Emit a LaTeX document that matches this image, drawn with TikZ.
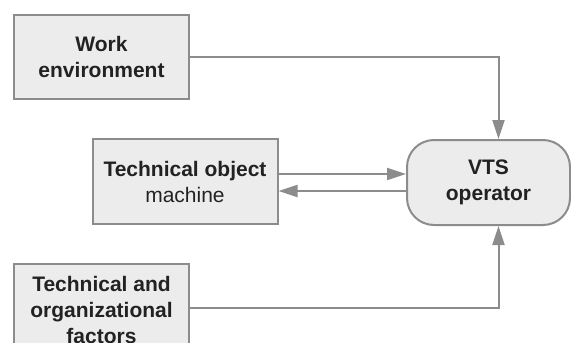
\documentclass[tikz,border=0pt]{standalone}
\usepackage{fontspec}
\setmainfont{Liberation Sans}
\usetikzlibrary{positioning,arrows.meta,calc}

\definecolor{boxgray}{HTML}{ECECEC}
\definecolor{linegray}{HTML}{8C8C8C}
\definecolor{textgray}{HTML}{222222}

\begin{document}
\begin{tikzpicture}[
    x=1pt, y=1pt,
    font=\fontsize{21}{26}\selectfont,
    box/.style={draw=linegray, fill=boxgray, line width=2pt, align=center,
                inner sep=2pt, text=textgray},
    factor/.style={box, minimum width=175pt, minimum height=84pt,
                   font=\fontsize{21}{26}\selectfont\bfseries},
    operator/.style={box, rounded corners=27pt, minimum width=163pt, minimum height=85pt,
                     font=\fontsize{21}{26}\selectfont\bfseries},
    arr/.style={-{Triangle[length=19pt, width=12pt, fill=linegray]}, draw=linegray,
                line width=2pt}
  ]
  \useasboundingbox (0,0) rectangle (571,-343);

  % ---- boxes ----
  \node[factor] (work) at (101.5,-57) {Work\\environment};
  \node[operator] (vts) at (488.5,-182.5) {VTS\\operator};
  \node[factor, font=\fontsize{21}{26}\selectfont, minimum width=185pt,
        minimum height=85pt] (tech) at (185,-181.5)
    {\textbf{Technical object}\\machine};
  \node[factor, minimum height=92pt] (org) at (101.5,-310)
    {Technical and\\organizational\\factors};

  % ---- connectors ----
  \draw[arr] (work.east) -| ([xshift=10pt]vts.north);
  \draw[arr] (org.east |- 0,-308) -| ([xshift=10pt]vts.south);
  \draw[arr] ([yshift=7.5pt]tech.east) -- ([yshift=7.5pt]tech.east -| vts.west);
  \draw[arr] ([yshift=-9.5pt]tech.east -| vts.west) -- ([yshift=-9.5pt]tech.east);

\end{tikzpicture}
\end{document}
